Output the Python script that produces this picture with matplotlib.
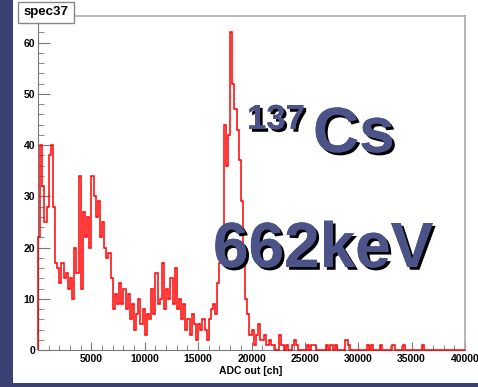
import matplotlib
matplotlib.use('Agg')
import matplotlib.pyplot as plt
import matplotlib.patheffects as pe
from matplotlib.patches import Rectangle
from matplotlib.ticker import MultipleLocator, FixedLocator
import numpy as np

# Histogram data: 200 bins of 200 ch over 0..40000
bin_width = 200
n_bins = 200
# counts of the first 105 bins (0 .. 21000 ch)
head_counts = [
    22, 40, 32, 25, 28, 38, 40, 28, 17, 16,
    13, 17, 14, 15, 12, 14, 10, 20, 15, 34,
    12, 27, 22, 26, 20, 34, 30, 26, 29, 22,
    25, 20, 18, 19, 14, 8, 11, 9, 13, 9,
    12, 8, 11, 6, 9, 4, 7, 10, 5, 8,
    3, 7, 6, 12, 7, 15, 9, 10, 17, 8,
    12, 10, 14, 9, 16, 8, 10, 6, 9, 4,
    6, 3, 7, 5, 2, 5, 4, 6, 4, 2,
    6, 8, 9, 7, 13, 17, 19, 44, 36, 42,
    62, 52, 47, 43, 37, 29, 20, 10, 7, 3,
    4, 1, 3, 5, 2,
]
# sparse tail above 21000 ch (bin index, count)
tail_bins = [105, 106, 107, 108, 109, 110, 113, 114, 116, 119, 120, 121,
             126, 128, 129, 135, 137, 139, 144, 145, 154, 156, 160, 166, 171, 180]
tail_counts = [2, 3, 1, 2, 1, 1, 3, 1, 1, 1, 2, 1,
               1, 1, 1, 1, 1, 1, 2, 1, 1, 1, 1, 1, 1, 1]

counts = np.zeros(n_bins)
counts[:len(head_counts)] = head_counts
counts[tail_bins] = tail_counts
edges = np.arange(n_bins + 1) * bin_width

W, H = 478, 387
fig = plt.figure(figsize=(W / 100, H / 100), dpi=100)
fig.patch.set_facecolor('white')

# slide background strips
fig.add_artist(Rectangle((0, 0), 13 / W, 1, transform=fig.transFigure,
                         facecolor='#3b4273', edgecolor='none', zorder=0))
fig.add_artist(Rectangle((0, 0), 1, 4 / H, transform=fig.transFigure,
                         facecolor='#3b4273', edgecolor='none', zorder=0))

ax = fig.add_axes([38 / W, 37 / H, 427 / W, 334 / H])
ax.stairs(counts, edges, color='#ff0000', linewidth=1.1, clip_on=False, zorder=3)

ax.set_xlim(0, 40000)
ax.set_ylim(0, 65.2)

for side in ['left', 'bottom']:
    ax.spines[side].set_color('#777777')
for side in ['top', 'right']:
    ax.spines[side].set_color('#aaaaaa')
    ax.spines[side].set_linewidth(1.2)

ax.xaxis.set_major_locator(FixedLocator([5000, 10000, 15000, 20000, 25000, 30000, 35000, 40000]))
ax.xaxis.set_minor_locator(MultipleLocator(1000))
ax.yaxis.set_major_locator(MultipleLocator(10))
ax.yaxis.set_minor_locator(MultipleLocator(2))
ax.tick_params(axis='y', which='major', direction='in', length=8.5, color='#777777',
               labelsize=7.5, pad=2)
ax.tick_params(axis='y', which='minor', direction='in', length=4.5, color='#777777')
ax.tick_params(axis='x', which='major', direction='in', length=6, color='#777777',
               labelsize=7.5, pad=3)
ax.tick_params(axis='x', which='minor', direction='in', length=3.5, color='#777777')
for lab in ax.get_xticklabels() + ax.get_yticklabels():
    lab.set_fontfamily('Liberation Sans')
    lab.set_fontweight('bold')

fig.text(251 / W, 1 - 371 / H, 'ADC out [ch]', ha='center', va='center',
         fontsize=7.5, fontweight='bold', family='Liberation Sans')

# title box
fig.add_artist(Rectangle((18 / W, 1 - 23 / H), 56 / W, 21 / H, transform=fig.transFigure,
                         facecolor='white', edgecolor='#888888', linewidth=1, zorder=5))
fig.text(46 / W, 1 - 12.5 / H, 'spec37', ha='center', va='center', fontsize=9.5,
         fontweight='bold', family='Liberation Sans', zorder=6)

# isotope annotation
shadow = [pe.withSimplePatchShadow(offset=(2, -2), shadow_rgbFace='black', alpha=1.0),
          pe.Normal()]
txt_color = '#4b5388'
fig.text(247 / W, 1 - 129 / H, '137', fontsize=25, fontweight='bold', color=txt_color,
         family='Liberation Sans', path_effects=shadow, va='baseline')
fig.text(313 / W, 1 - 152 / H, 'Cs', fontsize=46, fontweight='bold', color=txt_color,
         family='Liberation Sans', path_effects=shadow, va='baseline')
fig.text(213 / W, 1 - 267 / H, '662keV', fontsize=46, fontweight='bold', color=txt_color,
         family='Liberation Sans', path_effects=shadow, va='baseline')

plt.savefig('out.png', dpi=100, facecolor='white')
plt.close()
